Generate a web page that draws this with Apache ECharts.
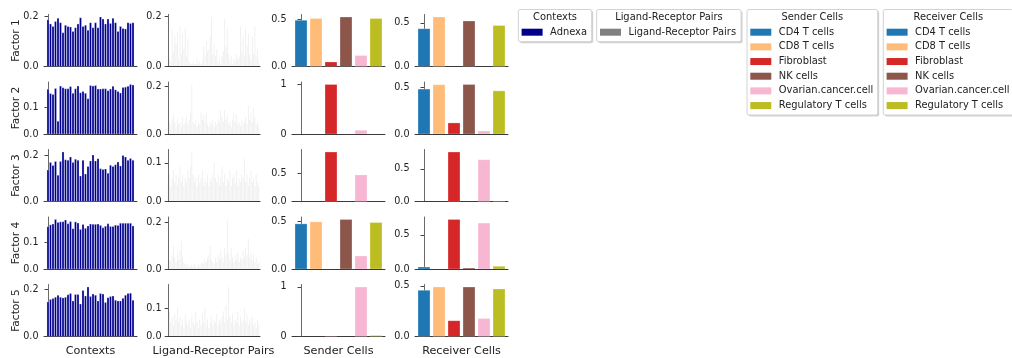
<!DOCTYPE html>
<html>
<head>
<meta charset="utf-8">
<script src="https://cdn.jsdelivr.net/npm/echarts@6/dist/echarts.min.js"></script>
<style>
  html, body { margin: 0; padding: 0; background: #fff; }
  #chart { width: 1012px; height: 358px; }
</style>
</head>
<body>
<div id="chart"></div>
<script>
// ---- data -------------------------------------------------------------
const factorNames = ['Factor 1', 'Factor 2', 'Factor 3', 'Factor 4', 'Factor 5'];
const columnTitles = ['Contexts', 'Ligand-Receptor Pairs', 'Sender Cells', 'Receiver Cells'];
const contextNames = ['Adnexa'];
const lrLegendNames = ['Ligand-Receptor Pairs'];
const cellTypes = ['CD4 T cells', 'CD8 T cells', 'Fibroblast', 'NK cells', 'Ovarian.cancer.cell', 'Regulatory T cells'];

// context loadings (one bar per sample), factor 1..5
const contextF1 = [0.187,0.170,0.160,0.180,0.193,0.175,0.135,0.165,0.160,0.158,0.140,0.155,0.170,0.195,0.160,0.165,0.145,0.175,0.155,0.175,0.155,0.198,0.190,0.170,0.190,0.172,0.193,0.175,0.140,0.160,0.152,0.150,0.175,0.172,0.175];
const contextF2 = [0.167,0.151,0.148,0.170,0.048,0.179,0.173,0.169,0.169,0.177,0.152,0.169,0.179,0.154,0.159,0.152,0.132,0.181,0.179,0.181,0.168,0.168,0.169,0.169,0.162,0.168,0.178,0.165,0.159,0.153,0.174,0.175,0.178,0.185,0.183];
const contextF3 = [0.137,0.170,0.157,0.175,0.115,0.175,0.216,0.182,0.180,0.194,0.170,0.184,0.180,0.111,0.180,0.120,0.153,0.177,0.203,0.177,0.187,0.143,0.140,0.142,0.123,0.158,0.153,0.160,0.172,0.155,0.201,0.194,0.180,0.188,0.180];
const contextF4 = [0.157,0.164,0.167,0.184,0.173,0.175,0.176,0.182,0.168,0.176,0.150,0.175,0.171,0.147,0.165,0.151,0.160,0.167,0.166,0.166,0.167,0.162,0.153,0.159,0.168,0.158,0.158,0.163,0.162,0.170,0.170,0.170,0.170,0.170,0.160];
const contextF5 = [0.146,0.156,0.160,0.166,0.174,0.166,0.163,0.166,0.176,0.181,0.150,0.177,0.177,0.137,0.194,0.171,0.209,0.169,0.179,0.174,0.150,0.181,0.179,0.143,0.164,0.169,0.171,0.153,0.150,0.150,0.161,0.174,0.181,0.183,0.153];

// ligand-receptor pair loadings, factor 1..5
const lrF1 = [0.02,0.03,0.02,0.15,0.06,0.12,0.09,0.14,0.03,0.16,0.05,0.13,0.07,0.15,0.04,0.11,0.02,0.01,0.01,0.02,0.01,0.01,0.03,0.01,0.02,0.01,0.02,0.08,0.04,0.10,0.06,0.07,0.12,0.197,0.05,0.09,0.04,0.07,0.02,0.03,0.01,0.04,0.06,0.19,0.08,0.15,0.05,0.02,0.04,0.01,0.03,0.02,0.05,0.03,0.04,0.16,0.06,0.12,0.04,0.15,0.08,0.13,0.05,0.03,0.12,0.05,0.16,0.04,0.07,0.02];
const lrF2 = [0.03,0.05,0.04,0.06,0.08,0.05,0.03,0.06,0.04,0.05,0.03,0.07,0.04,0.05,0.07,0.04,0.06,0.09,0.207,0.05,0.04,0.06,0.03,0.05,0.04,0.09,0.06,0.08,0.05,0.09,0.04,0.03,0.05,0.04,0.06,0.03,0.05,0.04,0.06,0.05,0.10,0.07,0.05,0.10,0.06,0.08,0.04,0.05,0.03,0.06,0.09,0.05,0.08,0.04,0.05,0.03,0.06,0.04,0.05,0.07,0.04,0.12,0.06,0.09,0.05,0.11,0.07,0.04,0.05,0.03];
const lrF3 = [0.05,0.07,0.04,0.06,0.08,0.05,0.07,0.04,0.06,0.09,0.05,0.07,0.04,0.06,0.05,0.08,0.06,0.09,0.128,0.07,0.05,0.06,0.04,0.07,0.05,0.06,0.08,0.04,0.06,0.05,0.07,0.04,0.06,0.05,0.07,0.10,0.06,0.05,0.07,0.04,0.06,0.09,0.05,0.07,0.04,0.06,0.05,0.08,0.04,0.06,0.07,0.05,0.08,0.04,0.06,0.05,0.07,0.06,0.11,0.05,0.07,0.04,0.06,0.08,0.05,0.06,0.04,0.07,0.05,0.04];
const lrF4 = [0.02,0.04,0.03,0.06,0.10,0.05,0.03,0.07,0.04,0.08,0.12,0.05,0.03,0.02,0.01,0.02,0.01,0.01,0.02,0.01,0.02,0.01,0.01,0.02,0.01,0.02,0.03,0.02,0.04,0.03,0.05,0.06,0.10,0.04,0.03,0.02,0.05,0.03,0.06,0.04,0.08,0.05,0.03,0.09,0.06,0.214,0.07,0.04,0.09,0.05,0.03,0.06,0.04,0.07,0.03,0.05,0.04,0.08,0.05,0.09,0.06,0.13,0.05,0.07,0.04,0.06,0.03,0.05,0.02,0.03];
const lrF5 = [0.04,0.09,0.05,0.07,0.04,0.08,0.06,0.10,0.05,0.07,0.04,0.06,0.03,0.08,0.05,0.04,0.06,0.03,0.07,0.05,0.04,0.09,0.05,0.03,0.06,0.04,0.08,0.05,0.10,0.04,0.06,0.03,0.05,0.07,0.04,0.06,0.05,0.08,0.04,0.06,0.05,0.07,0.09,0.05,0.11,0.06,0.176,0.07,0.05,0.08,0.04,0.06,0.05,0.09,0.04,0.07,0.05,0.06,0.10,0.05,0.08,0.04,0.06,0.05,0.07,0.04,0.05,0.03,0.06,0.04];

// sender / receiver cell loadings (order of cellTypes), factor 1..5
const senderF1 = [0.487, 0.505, 0.048, 0.522, 0.116, 0.505];
const senderF2 = [0, 0, 1.0, 0, 0.075, 0];
const senderF3 = [0, 0, 0.875, 0, 0.47, 0];
const senderF4 = [0.475, 0.496, 0, 0.521, 0.137, 0.489];
const senderF5 = [0, 0, 0.005, 0, 1.0, 0.02];
const receiverF1 = [0.435, 0.569, 0, 0.523, 0, 0.47];
const receiverF2 = [0.479, 0.525, 0.118, 0.528, 0.032, 0.46];
const receiverF3 = [0, 0, 0.757, 0, 0.638, 0.005];
const receiverF4 = [0.029, 0, 0.725, 0.015, 0.672, 0.04];
const receiverF5 = [0.457, 0.49, 0.157, 0.49, 0.177, 0.47];

// y tick values shown on each panel, factor 1..5
const contextTicks = [[0, 0.2], [0, 0.1], [0, 0.2], [0, 0.1], [0, 0.2]];
const lrTicks = [[0, 0.2], [0, 0.2], [0, 0.1], [0, 0.2], [0, 0.1]];
const senderTicks = [[0, 0.5], [0, 1], [0, 0.5], [0, 0.5], [0, 1]];
const receiverTicks = [[0, 0.5], [0, 0.5], [0, 0.5], [0, 0.5], [0, 0.5]];

// ---- styling ----------------------------------------------------------
const FONT = 'DejaVu Sans';
const contextColor = '#00008b';
const lrColor = '#808080';
const cellColors = ['#1f77b4', '#ffbb78', '#d62728', '#8c564b', '#f7b6d2', '#bcbd22'];

const colLeft = [44, 167, 292, 415];
const colWidth = 93;
const rowTop0 = 14.5, rowPitch = 67.5, rowHeight = 52;

const columns = [
  { values: [contextF1, contextF2, contextF3, contextF4, contextF5], ticks: contextTicks,
    half: 0.4, pad: 1.2, fill: () => contextColor, stroke: 'rgba(230,230,255,0.55)' },
  { values: [lrF1, lrF2, lrF3, lrF4, lrF5], ticks: lrTicks,
    half: 0.3, pad: 0.6, fill: () => 'rgba(128,128,128,0.14)', stroke: null },
  { values: [senderF1, senderF2, senderF3, senderF4, senderF5], ticks: senderTicks,
    half: 0.4, pad: 0.2, fill: (i) => cellColors[i], stroke: 'rgba(255,255,255,0.45)' },
  { values: [receiverF1, receiverF2, receiverF3, receiverF4, receiverF5], ticks: receiverTicks,
    half: 0.4, pad: 0.2, fill: (i) => cellColors[i], stroke: 'rgba(255,255,255,0.45)' }
];

function tickFormatter(ticks) {
  const allInt = ticks.every(t => Number.isInteger(t));
  return (v) => allInt ? String(Math.round(v)) : v.toFixed(1);
}

function barRenderer(col) {
  return function (params, api) {
    const x = api.value(0), v = api.value(1);
    if (!(v > 0)) return null;
    const a = api.coord([x - col.half, v]);
    const b = api.coord([x + col.half, 0]);
    const style = { fill: col.fill(params.dataIndex) };
    if (col.stroke) { style.stroke = col.stroke; style.lineWidth = 0.6; }
    return {
      type: 'rect',
      shape: { x: a[0], y: a[1], width: b[0] - a[0], height: b[1] - a[1] },
      style: style
    };
  };
}

const grids = [], xAxes = [], yAxes = [], series = [];
for (let r = 0; r < 5; r++) {
  for (let c = 0; c < 4; c++) {
    const col = columns[c];
    const vals = col.values[r];
    const ticks = col.ticks[r];
    const idx = grids.length;
    const yMax = Math.max(...vals) * 1.05;
    grids.push({ left: colLeft[c], top: rowTop0 + rowPitch * r, width: colWidth, height: rowHeight, containLabel: false });
    const xAxis = {
      gridIndex: idx, type: 'value',
      min: -col.half - col.pad, max: vals.length - 1 + col.half + col.pad,
      axisLine: { show: true, onZero: false, lineStyle: { color: '#3a3a3a', width: 1 } },
      axisTick: { show: false }, axisLabel: { show: false }, splitLine: { show: false }
    };
    if (r === 4) {
      Object.assign(xAxis, {
        name: columnTitles[c], nameLocation: 'middle', nameGap: 9,
        nameTextStyle: { fontFamily: FONT, fontSize: 11.2, color: '#222', verticalAlign: 'top' }
      });
    }
    xAxes.push(xAxis);
    yAxes.push({
      gridIndex: idx, type: 'value', min: 0, max: yMax,
      axisLine: { show: true, lineStyle: { color: '#6a6a6a', width: 1 } },
      axisTick: { show: true, length: 3.5, customValues: ticks, lineStyle: { color: '#444', width: 1 } },
      axisLabel: { customValues: ticks, formatter: tickFormatter(ticks), fontFamily: FONT, fontSize: 9.6, color: '#222', margin: 5.5 },
      splitLine: { show: false }
    });
    series.push({
      type: 'custom', xAxisIndex: idx, yAxisIndex: idx,
      renderItem: barRenderer(col),
      encode: { x: 0, y: 1 },
      data: vals.map((v, i) => [i, v]),
      clip: true, silent: true, animation: false
    });
  }
}

// ---- legends and factor labels ----------------------------------------
function textEl(text, x, y, size, align, extra) {
  return Object.assign({
    type: 'text', x: x, y: y, silent: true,
    style: { text: text, fill: '#222', font: size + 'px "' + FONT + '"',
             align: align, verticalAlign: 'middle', textAlign: align, textVerticalAlign: 'middle' }
  }, extra || {});
}

const legends = [
  { left: 518.3, width: 73.4, title: columnTitles[0], items: contextNames.map(n => ({ name: n, color: contextColor })) },
  { left: 596.7, width: 144.4, title: columnTitles[1], items: lrLegendNames.map(n => ({ name: n, color: lrColor })) },
  { left: 747, width: 130.7, title: columnTitles[2], items: cellTypes.map((n, i) => ({ name: n, color: cellColors[i] })) },
  { left: 883.3, width: 130, title: columnTitles[3], items: cellTypes.map((n, i) => ({ name: n, color: cellColors[i] })) }
];

const graphics = [];
legends.forEach(lg => {
  const top = 9.5, h = 17.5 + 14.67 * lg.items.length;
  // soft drop shadow, then the opaque frame on top
  graphics.push({
    type: 'rect', silent: true, z: 9,
    shape: { x: lg.left + 1.5, y: top + 1.5, width: lg.width, height: h, r: 2 },
    style: { fill: 'rgba(0,0,0,0.18)' }
  });
  graphics.push({
    type: 'rect', silent: true, z: 10,
    shape: { x: lg.left, y: top, width: lg.width, height: h, r: 2 },
    style: { fill: '#ffffff', stroke: '#d2d2d2', lineWidth: 1 }
  });
  graphics.push(textEl(lg.title, lg.left + lg.width / 2, 17.5, 9.9, 'center', { z: 11 }));
  lg.items.forEach((it, i) => {
    const cy = 32.2 + 14.67 * i;
    graphics.push({
      type: 'rect', silent: true, z: 11,
      shape: { x: lg.left + 3.3, y: cy - 3.5, width: 21, height: 7 },
      style: { fill: it.color }
    });
    graphics.push(textEl(it.name, lg.left + 31.8, cy, 9.9, 'left', { z: 11 }));
  });
});

factorNames.forEach((name, r) => {
  graphics.push(textEl(name, 16, rowTop0 + rowPitch * r + rowHeight / 2, 10.6, 'center', { rotation: Math.PI / 2 }));
});

const chart = echarts.init(document.getElementById('chart'), null, { renderer: 'canvas' });
chart.setOption({
  animation: false,
  backgroundColor: '#ffffff',
  textStyle: { fontFamily: FONT },
  grid: grids,
  xAxis: xAxes,
  yAxis: yAxes,
  series: series,
  graphic: graphics
});
</script>
</body>
</html>
